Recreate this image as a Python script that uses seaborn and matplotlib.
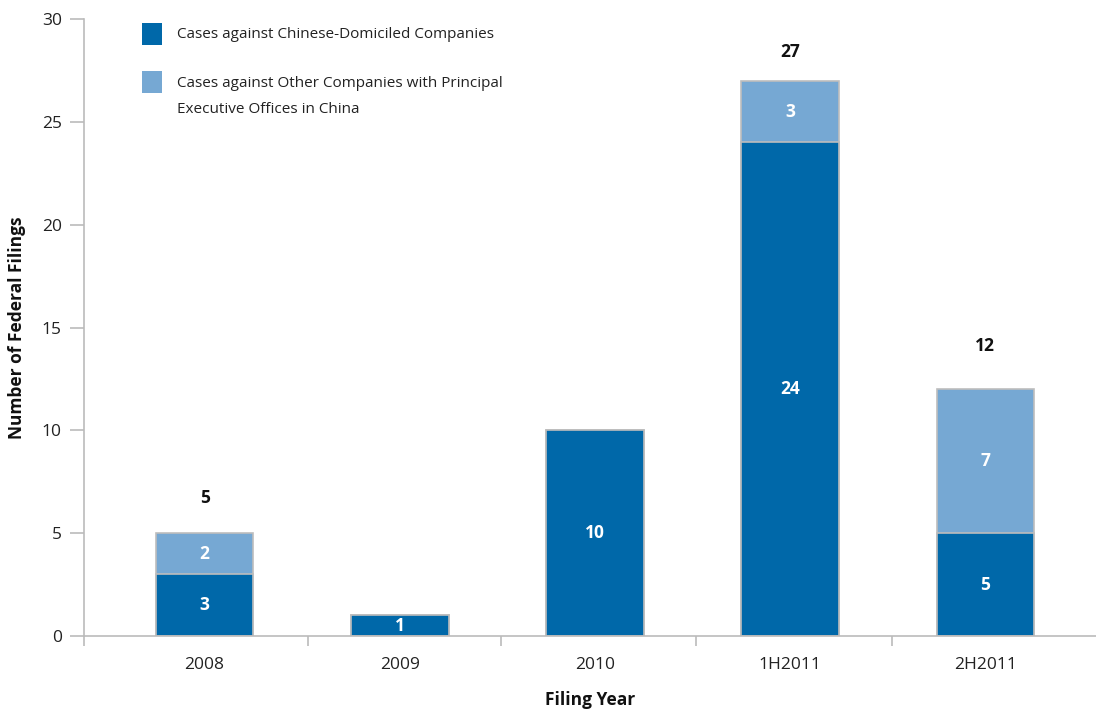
import matplotlib
matplotlib.use("Agg")
import matplotlib.pyplot as plt
import seaborn as sns
import pandas as pd
from matplotlib.patches import Rectangle

categories = ["2008", "2009", "2010", "1H2011", "2H2011"]
domiciled = [3, 1, 10, 24, 5]
other = [2, 0, 0, 3, 7]
series_labels = ["Cases against Chinese-Domiciled Companies",
                 "Cases against Other Companies with Principal\nExecutive Offices in China"]
y_ticks = [0, 5, 10, 15, 20, 25, 30]

DARK = "#0068A9"
LIGHT = "#76A8D3"
EDGE = "#BDBDBD"
GRAY = "#BBBBBB"

sns.set_theme(style="white")
plt.rcParams['font.family'] = ['Open Sans', 'DejaVu Sans']

totals = [d + o for d, o in zip(domiciled, other)]
df = pd.DataFrame({"cat": categories, "dom": domiciled, "oth": other, "tot": totals})

fig = plt.figure(figsize=(10.96, 7.12), dpi=100)
ax = fig.add_axes([84 / 1096, 1 - 636 / 712, 1 - 84 / 1096, (636 - 19) / 712])

sns.barplot(data=df, x="cat", y="tot", color=LIGHT, saturation=1, width=0.5,
            edgecolor=EDGE, linewidth=1.2, ax=ax, order=categories)
sns.barplot(data=df, x="cat", y="dom", color=DARK, saturation=1, width=0.5,
            edgecolor=EDGE, linewidth=1.2, ax=ax, order=categories)

ax.set_xlim(-0.618, 4.567)
ax.set_ylim(0, 30)
ax.set_yticks(y_ticks)
ax.set_yticklabels([str(t) for t in y_ticks], fontsize=12.5, color="#222222")
ax.set_xticks(range(len(categories)))
ax.set_xticklabels(categories, fontsize=12.5, color="#222222")
ax.tick_params(axis="x", which="major", length=0, pad=15, bottom=True)
ax.set_xticks([-0.618, 0.53, 1.52, 2.52, 3.52], minor=True)
ax.tick_params(axis="x", which="minor", length=7, color=GRAY, width=1.2,
               direction="out", bottom=True)
ax.tick_params(axis="y", length=10, color=GRAY, width=1.2, direction="out",
               pad=6, left=True)

for s in ["top", "right"]:
    ax.spines[s].set_visible(False)
for s in ["left", "bottom"]:
    ax.spines[s].set_color(GRAY)
    ax.spines[s].set_linewidth(1.2)

ax.set_xlabel("Filing Year", fontsize=12.5, fontweight="bold", labelpad=13, color="#111111")
ax.set_ylabel("Number of Federal Filings", fontsize=12.5, fontweight="bold", labelpad=11, color="#111111")

total_offsets = [25, 0, 0, 21, 31]
for i, (d, o, t) in enumerate(zip(domiciled, other, totals)):
    ax.text(i, d / 2, str(d), ha="center", va="center", color="white",
            fontsize=12.5, fontweight="bold")
    if o > 0:
        ax.text(i, d + o / 2, str(o), ha="center", va="center", color="white",
                fontsize=12.5, fontweight="bold")
        ax.annotate(str(t), (i, t), xytext=(0, total_offsets[i]), textcoords="offset points",
                    ha="center", va="center", fontsize=12.5, fontweight="bold",
                    color="#111111")

# legend drawn in axes-fraction coordinates
tr = ax.transAxes
ax.add_patch(Rectangle((0.0573, 0.9579), 0.0198, 0.0357, transform=tr,
                       facecolor=DARK, edgecolor="none", clip_on=False))
ax.add_patch(Rectangle((0.0573, 0.8801), 0.0198, 0.0357, transform=tr,
                       facecolor=LIGHT, edgecolor="none", clip_on=False))
ax.text(0.0919, 0.9741, series_labels[0], transform=tr, ha="left", va="center",
        fontsize=11, color="#222222")
ax.text(0.0919, 0.8744, series_labels[1], transform=tr, ha="left", va="center",
        fontsize=11, color="#222222", linespacing=1.95)

fig.savefig("out.png", dpi=100)
